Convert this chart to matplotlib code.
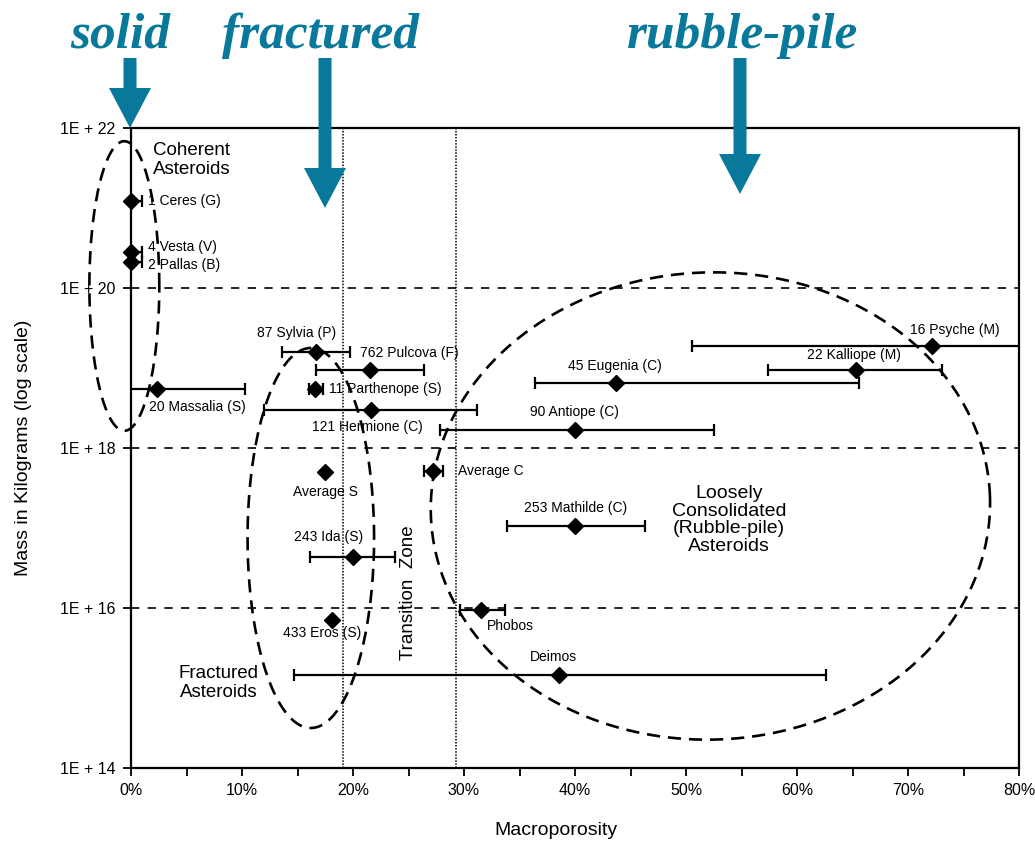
import numpy as np
import matplotlib.pyplot as plt
from matplotlib.ticker import FixedLocator, FuncFormatter
from matplotlib.patches import FancyArrow

plt.rcParams['font.family'] = ['Liberation Sans', 'DejaVu Sans']

# asteroid macroporosity (%) and mass (kg), with porosity ranges
names = ["1 Ceres (G)", "4 Vesta (V)", "2 Pallas (B)", "20 Massalia (S)",
         "87 Sylvia (P)", "762 Pulcova (F)", "11 Parthenope (S)",
         "121 Hermione (C)", "Average S", "Average C", "243 Ida (S)",
         "433 Eros (S)", "Phobos", "Deimos", "253 Mathilde (C)",
         "90 Antiope (C)", "45 Eugenia (C)", "22 Kalliope (M)", "16 Psyche (M)"]
porosity = [0.0, 0.0, 0.0, 2.3, 16.7, 21.5, 16.6, 21.6, 17.5, 27.2, 20.0,
            18.1, 31.5, 38.6, 40.0, 40.0, 43.7, 65.3, 72.2]
mass = [1.23e21, 2.8e20, 2.1e20, 5.4e18, 1.6e19, 9.5e18, 5.4e18, 3.0e18,
        5.0e17, 5.2e17, 4.4e16, 7.1e15, 9.5e15, 1.45e15, 1.07e17, 1.66e18,
        6.5e18, 9.4e18, 1.9e19]
porosity_lo = [0.0, 0.0, 0.0, -0.5, 13.6, 16.7, 16.0, 12.0, 17.5, 26.4, 16.1,
               18.1, 29.6, 14.7, 33.9, 27.8, 36.4, 57.4, 50.5]
porosity_hi = [1.0, 1.0, 1.0, 10.3, 19.7, 26.4, 17.3, 31.2, 17.5, 28.1, 23.8,
               18.1, 33.7, 62.6, 46.3, 52.5, 65.6, 73.1, 80.5]

x_ticks = [0, 10, 20, 30, 40, 50, 60, 70, 80]
y_ticks = [1e14, 1e16, 1e18, 1e20, 1e22]
zone_bounds = [19.1, 29.3]

# label placement: offset in pixels from the point, horizontal alignment
label_pos = [(17, 0, 'left'), (17, 5, 'left'), (17, -3, 'left'),
             (-8, -18, 'left'), (-20, 19, 'center'), (-10, 17, 'left'),
             (14, 0, 'left'), (-3, -17, 'center'), (0, -20, 'center'),
             (25, 0, 'left'), (-24, 20, 'center'), (-10, -13, 'center'),
             (6, -16, 'left'), (-6, 18, 'center'), (1, 18, 'center'),
             (-1, 18, 'center'), (-1, 17, 'center'), (-2, 15, 'center'),
             (22, 16, 'center')]

teal = '#08789b'

fig = plt.figure(figsize=(10.35, 8.46), dpi=100)
ax = fig.add_axes([131 / 1035, 1 - 768 / 846, 888 / 1035, 640 / 846])
ax.set_yscale('log')
ax.set_xlim(0, 80)
ax.set_ylim(1e14, 1e22)

# reference lines
for y in y_ticks[1:-1]:
    ax.axhline(y, color='black', lw=1.2, ls=(0, (5, 5)), zorder=1)
for x in zone_bounds:
    ax.axvline(x, color='black', lw=1.1, ls=(0, (1, 1)), zorder=1)

# error bars and diamonds
por = np.array(porosity)
lo = np.array(porosity_lo)
hi = np.array(porosity_hi)
ms = np.array(mass)
has_bar = hi > lo
ax.errorbar(por[has_bar], ms[has_bar],
            xerr=[por[has_bar] - lo[has_bar], hi[has_bar] - por[has_bar]],
            fmt='none', ecolor='black', elinewidth=1.6, capsize=4.5,
            capthick=1.6, zorder=3)
ax.plot(por, ms, 'D', color='black', markersize=8.5, zorder=4, clip_on=False)

for name, x, y, (dx, dy, ha) in zip(names, porosity, mass, label_pos):
    ax.annotate(name, (x, y), xytext=(dx, dy), textcoords='offset pixels',
                ha=ha, va='center', fontsize=10, zorder=5)


def dashed_ellipse(cx, cy_log, rx, ry, angle=0.0):
    # drawn in screen-proportional units so the log axis keeps the shape
    kx, ky = 11.1, 80.0
    t = np.linspace(0, 2 * np.pi, 400)
    u = rx * kx * np.cos(t)
    v = ry * ky * np.sin(t)
    a = np.radians(angle)
    ur = u * np.cos(a) - v * np.sin(a)
    vr = u * np.sin(a) + v * np.cos(a)
    ax.plot(cx + ur / kx, 10 ** (cy_log + vr / ky), color='black', lw=1.9,
            ls=(0, (5, 3)), zorder=2, clip_on=False)


dashed_ellipse(-0.6, 20.025, 3.15, 1.81)
dashed_ellipse(16.2, 16.875, 5.7, 2.375)
dashed_ellipse(52.2, 17.275, 25.2, 2.92, angle=2)

ax.text(2.0, 10 ** 21.6, 'Coherent\nAsteroids', fontsize=13.5, ha='left',
        va='center', linespacing=1.15)
ax.text(7.9, 10 ** 15.06, 'Fractured\nAsteroids', fontsize=13.5, ha='center',
        va='center', linespacing=1.15)
ax.text(25.0, 10 ** 16.19, 'Transition  Zone', fontsize=13.5, rotation=90,
        ha='center', va='center')
ax.text(53.9, 10 ** 17.1, 'Loosely\nConsolidated\n(Rubble-pile)\nAsteroids',
        fontsize=14, ha='center', va='center', linespacing=1.05)

# axes, ticks and labels
for s in ax.spines.values():
    s.set_linewidth(1.6)
ax.xaxis.set_major_locator(FixedLocator(x_ticks))
ax.xaxis.set_minor_locator(FixedLocator(np.arange(5, 80, 10)))
ax.xaxis.set_major_formatter(FuncFormatter(lambda v, p: f'{v:.0f}%'))
ax.yaxis.set_major_locator(FixedLocator(y_ticks))
ax.yaxis.set_minor_locator(FixedLocator([]))
ax.yaxis.set_major_formatter(
    FuncFormatter(lambda v, p: f'1E + {int(round(np.log10(v)))}'))
ax.tick_params(axis='both', which='both', direction='out', length=6,
               width=1.3, labelsize=11.5)
ax.tick_params(axis='x', pad=5)
ax.tick_params(axis='y', pad=5)
ax.set_xlabel('Macroporosity', fontsize=14, labelpad=18)
ax.xaxis.set_label_coords(0.479, -0.085)
ax.set_ylabel('Mass in Kilograms (log scale)', fontsize=14, labelpad=20)

# headings and arrows across the top, in pixel coordinates
over = fig.add_axes([0, 0, 1, 1], facecolor='none')
over.set_xlim(0, 1035)
over.set_ylim(846, 0)
over.axis('off')
for word, xc in [('solid', 120), ('fractured', 320), ('rubble-pile', 743)]:
    over.text(xc, 48, word, family='Liberation Serif', style='italic',
              weight='bold', fontsize=37, color=teal, ha='center',
              va='baseline')
for xc, y0, tip in [(130, 58, 128), (325, 58, 208), (740, 58, 194)]:
    over.add_patch(FancyArrow(xc, y0, 0, tip - y0, width=13,
                              head_width=42, head_length=40,
                              length_includes_head=True, color=teal,
                              lw=0, zorder=10))

fig.savefig('out.png', dpi=100)
